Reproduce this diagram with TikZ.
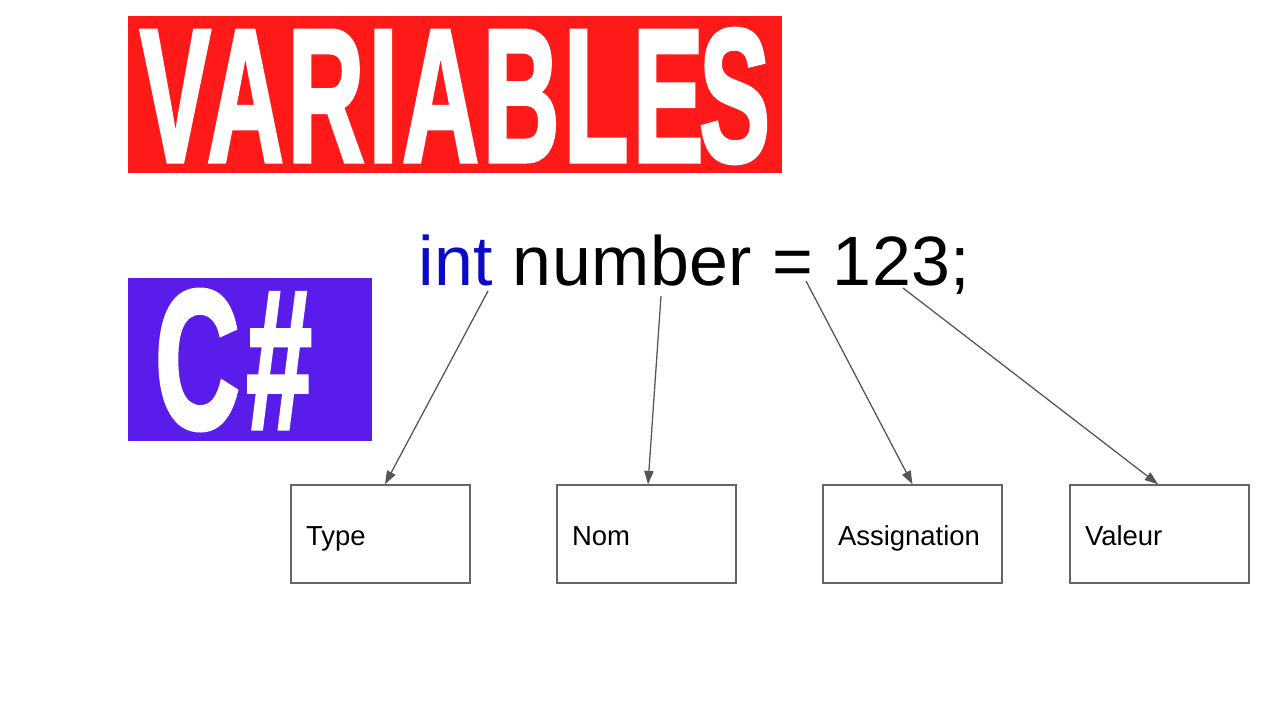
\documentclass[tikz,border=0pt]{standalone}
\usepackage{fontspec}
\setmainfont{Liberation Sans}
\newfontfamily\heavyfont{Liberation Sans}[UprightFont={* Bold}, FakeBold=2.5, LetterSpace=4]
\usetikzlibrary{arrows.meta,calc}
\definecolor{titlered}{RGB}{255,26,26}
\definecolor{cspurple}{RGB}{90,28,234}
\definecolor{intblue}{RGB}{10,10,200}
\definecolor{boxgray}{RGB}{102,102,102}
\definecolor{arrgray}{RGB}{85,85,85}
\begin{document}
\begin{tikzpicture}[x=0.75pt,y=-0.75pt,
  banner/.style={fill=#1, draw=none, inner sep=0pt, anchor=north west},
  bannertext/.style={text=white, inner sep=0pt},
  term/.style={draw=boxgray, line width=1.1pt, minimum width=134.25pt, minimum height=73.5pt,
    inner xsep=11.25pt, inner ysep=0pt, text width=111.75pt, align=left,
    text height=20pt, text depth=3.5pt,
    font=\fontsize{20.6pt}{23pt}\selectfont},
  arr/.style={draw=arrgray, line width=0.95pt, -{Triangle[length=10pt,width=7pt]}}
]
\useasboundingbox (0,0) rectangle (1280,720);
\fill[white] (0,0) rectangle (1280,720);

% banners
\node[banner=titlered, minimum width=490.5pt, minimum height=117.75pt] (title) at (128,16) {};
\node[bannertext] (titletext) at (455,96) {\resizebox{472.5pt}{99pt}{\heavyfont VARIABLE\kern-0.04emS}};
\node[banner=cspurple, minimum width=183pt, minimum height=122.25pt] (cs) at (128,278) {};
\node[bannertext] (cstext) at (233.5,360) {\resizebox{117.75pt}{103.5pt}{\heavyfont C\kern0.06em\#}};

% code line
\node[anchor=base west, inner sep=0pt, font=\fontsize{52.4pt}{60pt}\selectfont\addfontfeatures{LetterSpace=0.7}] (code) at (418,285)
  {\textcolor{intblue}{int} number = 123;};

% boxes
\node[term] (type) at (380.5,534) {Type};
\node[term] (nom) at (646.5,534) {Nom};
\node[term] (assign) at (912.5,534) {Assignation};
\node[term] (valeur) at (1159.5,534) {Valeur};

% arrow starts
\coordinate (s1) at (488,291);
\coordinate (s2) at (661,296);
\coordinate (s3) at (806,281);
\coordinate (s4) at (903,288);

\draw[arr] (s1) -- ($(type.north)+(4.5,0)$);
\draw[arr] (s2) -- ($(nom.north)+(1.5,0)$);
\draw[arr] (s3) -- (assign.north);
\draw[arr] (s4) -- ($(valeur.north)+(-1.5,0)$);
\end{tikzpicture}
\end{document}
